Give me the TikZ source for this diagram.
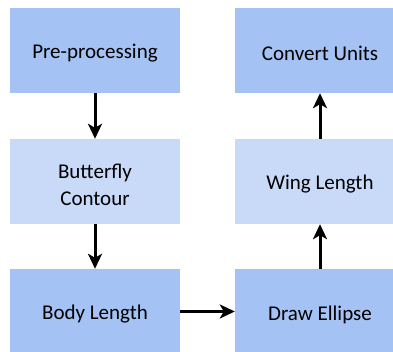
\documentclass[tikz,border=0pt]{standalone}
\usepackage{fontspec}
\setmainfont{Carlito}
\usetikzlibrary{arrows.meta}
\definecolor{boxdark}{HTML}{A4C2F4}
\definecolor{boxlight}{HTML}{C9DAF8}
\tikzset{
  stepbox/.style={rectangle, minimum width=170pt, minimum height=85pt, inner sep=0pt},
  darkbox/.style={stepbox, fill=boxdark},
  lightbox/.style={stepbox, fill=boxlight},
  steptext/.style={align=center, font=\fontsize{21}{27}\selectfont, text=black,
    inner sep=0pt, yshift=-3pt},
  flow/.style={line width=3pt, -{Stealth[length=15pt,width=14pt,inset=4pt]}}
}
\begin{document}
\begin{tikzpicture}[x=1pt,y=1pt]
\useasboundingbox[clip] (0,0) rectangle (393,351);
\fill[white] (0,0) rectangle (393,351);
\node[darkbox]  (pre)  at (95,300.5) {};
\node[lightbox] (bfly) at (95,169.5) {};
\node[darkbox]  (body) at (95,39.5)  {};
\node[darkbox]  (conv) at (320,300.5) {};
\node[lightbox] (wing) at (320,169.5) {};
\node[darkbox]  (draw) at (320,39.5)  {};
\node[steptext] (pret)  at (pre)  {Pre-processing};
\node[steptext] (bflyt) at (bfly) {Butterfly\\Contour};
\node[steptext] (bodyt) at (body) {Body Length};
\node[steptext] (convt) at (conv) {Convert Units};
\node[steptext] (wingt) at (wing) {Wing Length};
\node[steptext] (drawt) at (draw) {Draw Ellipse};
\draw[flow] (pre.south) -- (bfly.north);
\draw[flow] (bfly.south) -- (body.north);
\draw[flow] (body.east) -- (draw.west);
\draw[flow] (draw.north) -- (wing.south);
\draw[flow] (wing.north) -- (conv.south);
\end{tikzpicture}
\end{document}
